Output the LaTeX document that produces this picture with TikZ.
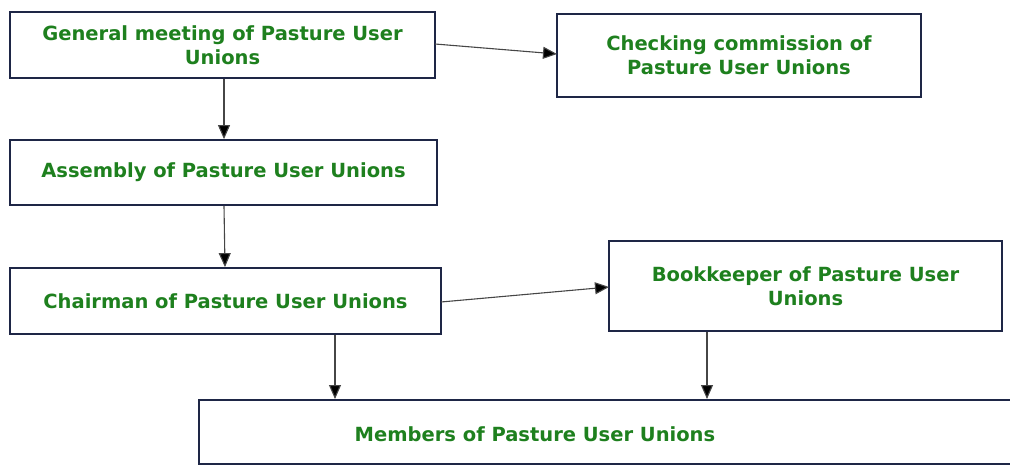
\documentclass[tikz,border=0pt]{standalone}
\usepackage{fontspec}
\setmainfont{DejaVu Sans}
\usetikzlibrary{arrows.meta}
\definecolor{boxline}{RGB}{30,38,70}
\definecolor{txtgreen}{RGB}{30,128,30}
\definecolor{arrowgray}{RGB}{70,70,70}
\tikzset{
  labelfont/.style={font=\bfseries\fontsize{19.5}{24}\selectfont, text=txtgreen},
  unit/.style={draw=boxline, line width=1.8pt, fill=white, inner sep=0pt,
    labelfont, align=center},
  conn/.style={draw=arrowgray, line width=1.1pt, -{Triangle[length=14pt,width=12pt,fill=black]}}
}
\begin{document}
\begin{tikzpicture}[x=1pt,y=-1pt]
\useasboundingbox (0,0) rectangle (1010,465);
\node[unit, minimum width=425pt, minimum height=66pt] (gm) at (222.5,45) {General meeting of Pasture User\\Unions};
\node[unit, minimum width=364pt, minimum height=83pt] (cc) at (739,55.5) {Checking commission of\\Pasture User Unions};
\node[unit, minimum width=427pt, minimum height=65pt] (as) at (223.5,172.5) {Assembly of Pasture User Unions};
\node[unit, minimum width=431pt, minimum height=66pt] (ch) at (225.5,301) {Chairman of Pasture User Unions};
\node[unit, minimum width=393pt, minimum height=90pt] (bk) at (805.5,286) {Bookkeeper of Pasture User\\Unions};
\node[unit, minimum width=816pt, minimum height=64pt, anchor=north west] (mb) at (198,399) {};
\node[labelfont] (mbt) at (535,434) {Members of Pasture User Unions};
\coordinate (gmA) at (435,44);
\coordinate (ccA) at (557,54);
\draw[conn] (gmA) -- (ccA);
\draw[conn] (gm.south -| 224,0) -- (as.north -| 224,0);
\draw[conn] (as.south -| 224,0) -- (ch.north -| 225,0);
\coordinate (chA) at (441,302);
\coordinate (bkA) at (609,287);
\draw[conn] (chA) -- (bkA);
\draw[conn] (ch.south -| 335,0) -- (mb.north -| 335,0);
\draw[conn] (bk.south -| 707,0) -- (mb.north -| 707,0);
\end{tikzpicture}
\end{document}
